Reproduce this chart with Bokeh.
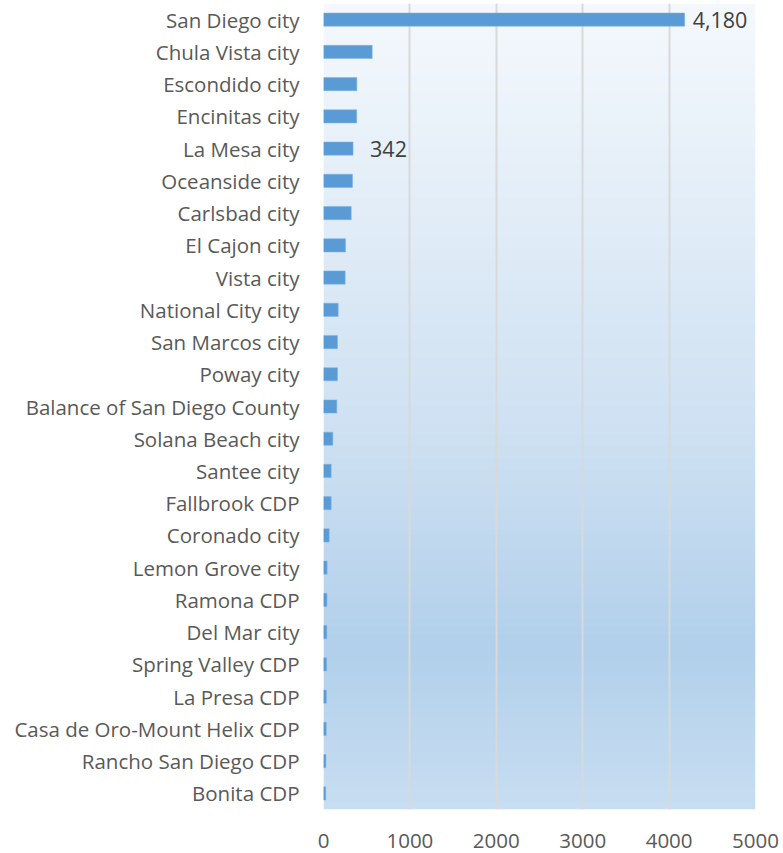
import numpy as np
from bokeh.plotting import figure
from bokeh.models import Range1d, FixedTicker, ColumnDataSource
from bokeh.core.properties import value
from bokeh.embed import file_html
from bokeh.resources import INLINE

categories = ["San Diego city", "Chula Vista city", "Escondido city", "Encinitas city",
              "La Mesa city", "Oceanside city", "Carlsbad city", "El Cajon city", "Vista city",
              "National City city", "San Marcos city", "Poway city",
              "Balance of San Diego County", "Solana Beach city", "Santee city",
              "Fallbrook CDP", "Coronado city", "Lemon Grove city", "Ramona CDP",
              "Del Mar city", "Spring Valley CDP", "La Presa CDP",
              "Casa de Oro-Mount Helix CDP", "Rancho San Diego CDP", "Bonita CDP"]
values = [4180, 564, 386, 384, 342, 336, 321, 255, 251, 170, 162, 162, 154, 108, 89, 89,
          66, 42, 40, 38, 36, 34, 32, 28, 26]
label_cats = ["San Diego city", "La Mesa city"]
label_texts = ["4,180", "342"]
x_ticks = [0, 1000, 2000, 3000, 4000, 5000]

n = len(categories)
ypos = [n - 1 - i + 0.5 for i in range(n)]

FONT = "Open Sans"
FS = "20.5px"
p = figure(width=781, height=852, output_backend="svg", toolbar_location=None,
           x_range=Range1d(0, 5000), y_range=Range1d(0, n),
           min_border_left=323, min_border_right=26, min_border_top=3, min_border_bottom=43)
p.outline_line_color = None
p.background_fill_color = "white"
p.border_fill_color = "white"

# gradient background
stops_t = [0.0, 0.55, 0.8, 1.0]
stops_c = [(245, 249, 253), (205, 224, 242), (178, 208, 235), (200, 222, 242)]
H = 400
t = np.linspace(0, 1, H)
img = np.zeros((H, 1), dtype=np.uint32)
view = img.view(dtype=np.uint8).reshape((H, 1, 4))
for k in range(3):
    ch = np.interp(t, stops_t, [c[k] for c in stops_c])
    view[:, 0, k] = ch[::-1].astype(np.uint8)
view[:, 0, 3] = 255
r_img = p.image_rgba(image=[img], x=0, y=0, dw=5000, dh=n)
r_img.level = "image"

src = ColumnDataSource(dict(y=ypos, v=values))
p.hbar(y="y", right="v", left=0, height=0.41, source=src,
       fill_color="#5b9bd5", line_color="#7fb2e0", line_width=0.5)

lab_y = [ypos[categories.index(c)] for c in label_cats]
lab_x = [values[categories.index(c)] for c in label_cats]
lab_off = [8, 17]
lsrc = ColumnDataSource(dict(x=lab_x, y=lab_y, t=label_texts, o=lab_off))
p.text(x="x", y="y", text="t", x_offset="o", source=lsrc, text_baseline="middle",
       text_align="left", text_font=value(FONT), text_font_size="21.5px", text_color="#404040")

p.xgrid.ticker = FixedTicker(ticks=x_ticks)
p.xgrid.grid_line_color = "#d9d9d9"
p.xgrid.grid_line_width = 2
p.ygrid.grid_line_color = None

p.xaxis.ticker = FixedTicker(ticks=x_ticks)
p.xaxis.axis_line_color = None
p.xaxis.major_tick_line_color = None
p.xaxis.minor_tick_line_color = None
p.xaxis.major_label_standoff = 18
p.xaxis.major_label_text_font = FONT
p.xaxis.major_label_text_font_size = FS
p.xaxis.major_label_text_color = "#595959"

p.yaxis.ticker = FixedTicker(ticks=ypos)
p.yaxis.major_label_overrides = {y: c for y, c in zip(ypos, categories)}
p.yaxis.axis_line_color = None
p.yaxis.major_tick_line_color = None
p.yaxis.minor_tick_line_color = None
p.yaxis.major_label_standoff = 18
p.yaxis.major_label_text_font = FONT
p.yaxis.major_label_text_font_size = FS
p.yaxis.major_label_text_color = "#595959"

open("out.html", "w").write(file_html(p, INLINE))
